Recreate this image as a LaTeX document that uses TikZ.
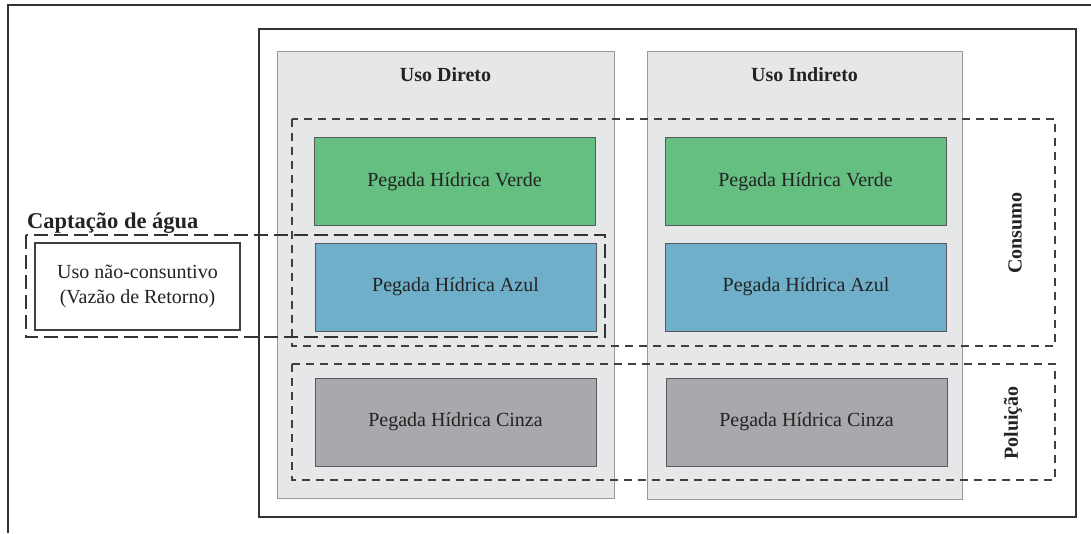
\documentclass[tikz,border=0pt]{standalone}
\usepackage{fontspec}
\setmainfont{Liberation Serif}
\definecolor{phverde}{RGB}{100,191,128}
\definecolor{phazul}{RGB}{111,175,201}
\definecolor{phcinza}{RGB}{168,169,172}
\definecolor{painel}{RGB}{230,231,232}
\definecolor{tinta}{RGB}{35,35,35}
\begin{document}
\begin{tikzpicture}[x=1pt,y=-1pt,
  every node/.style={text=tinta, font=\fontsize{20}{22}\selectfont},
  phbox/.style={draw=black!65, line width=0.9pt, minimum width=281pt, minimum height=88pt, inner sep=0pt},
  panelbox/.style={draw=black!40, fill=painel, line width=0.9pt, inner sep=0pt},
  grupo/.style={draw=black!75, line width=1.2pt, dash pattern=on 8pt off 6pt},
  captacao/.style={draw=black!80, line width=2pt, dash pattern=on 14pt off 6pt},
  titulo/.style={font=\bfseries\fontsize{20}{22}\selectfont},
  lateral/.style={font=\bfseries\fontsize{20}{22}\selectfont, rotate=90}]
\useasboundingbox (0,0) rectangle (1091,533);
\fill[white] (0,0) rectangle (1091,533);

% outer frame (open to the right and bottom)
\draw[black!80, line width=1.5pt] (1091,5) -- (8,5) -- (8,533);
% inner frame
\draw[black!80, line width=2.2pt] (259,29) rectangle (1076,517);

% use panels
\node[panelbox, minimum width=337pt, minimum height=447pt] (pdir) at (445.5,274.5) {};
\node[panelbox, minimum width=315pt, minimum height=448pt] (pind) at (804.5,275) {};
\node[titulo] (tdir) at (445.5,75) {Uso Direto};
\node[titulo] (tind) at (804.5,75) {Uso Indireto};

% consumption and pollution groups
\draw[grupo] (292,119) rectangle (1055,346);
\draw[grupo] (292,364) rectangle (1055,480);
\node[lateral] (lcons) at (1015,233) {Consumo};
\node[lateral] (lpol) at (1013,423) {Poluição};

% footprint boxes
\node[phbox, fill=phverde] (vdir) at (454.5,181.5) {Pegada Hídrica Verde};
\node[phbox, fill=phverde] (vind) at (805.5,181.5) {Pegada Hídrica Verde};
\node[phbox, fill=phazul] (adir) at (455.5,287) {Pegada Hídrica Azul};
\node[phbox, fill=phazul] (aind) at (806,287) {Pegada Hídrica Azul};
\node[phbox, fill=phcinza] (cdir) at (455.5,422) {Pegada Hídrica Cinza};
\node[phbox, fill=phcinza] (cind) at (806.5,422) {Pegada Hídrica Cinza};

% water withdrawal
\node[draw=black!75, line width=2.6pt, fill=white, minimum width=205pt, minimum height=87pt,
      align=center, inner sep=0pt, font=\fontsize{20}{25}\selectfont] (retorno) at (137.5,286.5)
      {Uso não-consuntivo\\(Vazão de Retorno)};
\draw[captacao] (26,235) rectangle (605,337);
\node[anchor=base west, inner sep=0pt, font=\bfseries\fontsize{22.5}{24}\selectfont] (lcap) at (27,228) {Captação de água};
\end{tikzpicture}
\end{document}
